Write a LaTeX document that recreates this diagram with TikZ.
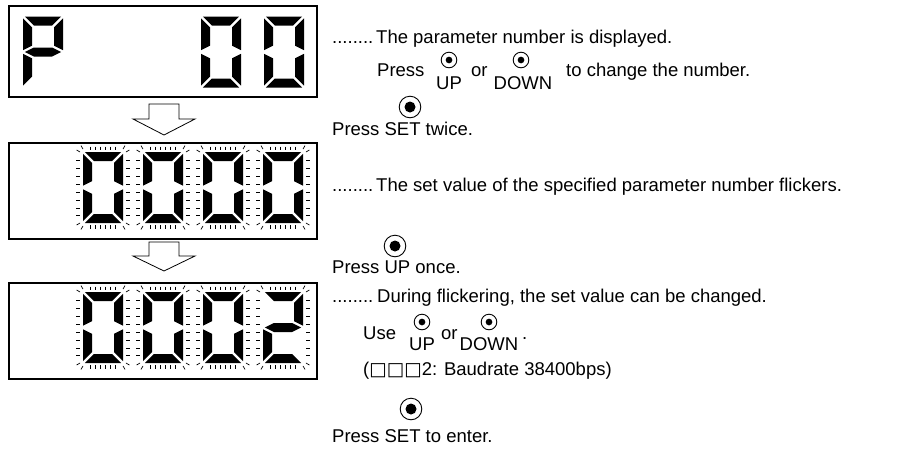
\documentclass[tikz,border=0pt]{standalone}
\usepackage{fontspec}
\setmainfont{Liberation Sans}
\newfontfamily\dvfont{DejaVu Sans}
\newcommand\segA{\fill[seg] (1.8,0) -- (38.2,0) -- (29.2,9) -- (10.8,9) -- cycle;}
\newcommand\segB{\fill[seg] (40,1.8) -- (31,10.8) -- (31,29.2) -- (40,33.7) -- cycle;}
\newcommand\segC{\fill[seg] (40,37.3) -- (31,41.8) -- (31,60.2) -- (40,69.2) -- cycle;}
\newcommand\segD{\fill[seg] (1.8,71) -- (38.2,71) -- (29.2,62) -- (10.8,62) -- cycle;}
\newcommand\segE{\fill[seg] (0,37.3) -- (9,41.8) -- (9,60.2) -- (0,69.2) -- cycle;}
\newcommand\segF{\fill[seg] (0,1.8) -- (9,10.8) -- (9,29.2) -- (0,33.7) -- cycle;}
\newcommand\segG{\fill[seg] (1.8,35.5) -- (10.8,31) -- (29.2,31) -- (38.2,35.5) -- (29.2,40) -- (10.8,40) -- cycle;}
\tikzset{
  seg/.style={fill=black},
  tick/.style={line width=0.7pt},
  txt/.style={anchor=base west, inner sep=0pt, font=\fontsize{18.5}{22}\selectfont},
  sub/.style={anchor=base, inner sep=0pt, font=\fontsize{18.5}{22}\selectfont},
  btn/.style={circle, draw, line width=0.9pt, minimum size=15.6pt, inner sep=0pt},
  bigbtn/.style={btn, minimum size=21.6pt},
  dotc/.style={circle, fill, inner sep=0pt, minimum size=6.7pt},
  bigdotc/.style={circle, fill, inner sep=0pt, minimum size=11pt},
  panel/.style={draw, line width=1.1pt},
  blockarrow/.style={draw, line width=0.8pt, fill=white},
  pics/dzero/.style={code={\segA\segB\segC\segD\segE\segF}},
  pics/dP/.style={code={\segA\segB\segE\segF\segG}},
  pics/dtwo/.style={code={\segA\segB\segD\segE\segG}},
  pics/flick/.style={code={
    \foreach \yy in {8.5,16.4,24.3,32.2,40.1,48,55.9,63.8} {
      \draw[tick] (-7,\yy) -- (-3,\yy);
      \draw[tick] (43,\yy) -- (47,\yy);
    }
    \foreach \xx in {7.5,12.5,...,32.5} {
      \draw[tick] (\xx,-5.5) -- (\xx,-2);
      \draw[tick] (\xx,73) -- (\xx,76.5);
    }
    \draw[tick] (0,-2.93) -- (-2,-6.39);
    \draw[tick] (-2.93,0) -- (-6.39,-2);
    \draw[tick] (40,-2.93) -- (42,-6.39);
    \draw[tick] (42.93,0) -- (46.39,-2);
    \draw[tick] (0,73.93) -- (-2,77.39);
    \draw[tick] (-2.93,71) -- (-6.39,73);
    \draw[tick] (40,73.93) -- (42,77.39);
    \draw[tick] (42.93,71) -- (46.39,73);
  }},
}
\begin{document}
\begin{tikzpicture}[x=1pt,y=-1pt]
\useasboundingbox (0,0) rectangle (914,448);
% panels
\draw[panel] (9,6) rectangle (317,97);
\draw[panel] (9,143) rectangle (317,239);
\draw[panel] (9,283) rectangle (317,379);
% arrows
\draw[blockarrow] (149,104) -- (179,104) -- (179,119) -- (195,119) -- (164,135) -- (133,119) -- (149,119) -- cycle;
\draw[blockarrow] (149,242) -- (179,242) -- (179,256) -- (195,256) -- (164,271) -- (133,256) -- (149,256) -- cycle;
% panel 1 digits
\pic at (23,16.5) {dP};
\pic at (201,16.5) {dzero};
\pic at (264,16.5) {dzero};
% panel 2 digits
\foreach \x in {83,143,203,263} {\pic at (\x,152) {dzero}; \pic at (\x,152) {flick};}
% panel 3 digits
\foreach \x in {83,143,203} {\pic at (\x,292) {dzero}; \pic at (\x,292) {flick};}
\pic at (263,292) {dtwo}; \pic at (263,292) {flick};
% texts
\node[txt] (dots1) at (332,43) {........};
\node[txt] (t1) at (376,43) {The parameter number is displayed.};
\node[txt] (press1) at (377,76) {Press};
\node[sub] (up1) at (449,89) {UP};
\node[btn] (bup1) at (449,60) {};
\node[dotc] (bup1d) at (bup1) {};
\node[txt] (or1) at (471,76) {or};
\node[sub] (down1) at (523,89) {DOWN};
\node[btn] (bdown1) at (521,60) {};
\node[dotc] (bdown1d) at (bdown1) {};
\node[txt] (t2) at (566,76) {to change the number.};
\node[bigbtn] (bset1) at (410,107) {};
\node[bigdotc] (bset1d) at (bset1) {};
\node[txt] (t3) at (332,135) {Press SET twice.};
\node[txt] (dots2) at (332,191) {........};
\node[txt] (t4) at (376,191) {The set value of the specified parameter number flickers.};
\node[bigbtn] (bup2) at (395,246) {};
\node[bigdotc] (bup2d) at (bup2) {};
\node[txt] (t5) at (332,273) {Press UP once.};
\node[txt] (dots3) at (332,302) {........};
\node[txt] (t6) at (377,302) {During flickering, the set value can be changed.};
\node[txt] (use) at (363,339) {Use};
\node[sub] (up2) at (422,350) {UP};
\node[btn] (bup3) at (422,322) {};
\node[dotc] (bup3d) at (bup3) {};
\node[txt] (or2) at (441,339) {or};
\node[sub] (down2) at (489,350) {DOWN};
\node[btn] (bdown2) at (489,322) {};
\node[dotc] (bdown2d) at (bdown2) {};
\node[txt] (per) at (522,339) {.};
\node[txt] (t8) at (363,375) {({\dvfont □□□}2: Baudrate 38400bps)};
\node[bigbtn] (bset2) at (411,409) {};
\node[bigdotc] (bset2d) at (bset2) {};
\node[txt] (t9) at (332,442) {Press SET to enter.};
\end{tikzpicture}
\end{document}
